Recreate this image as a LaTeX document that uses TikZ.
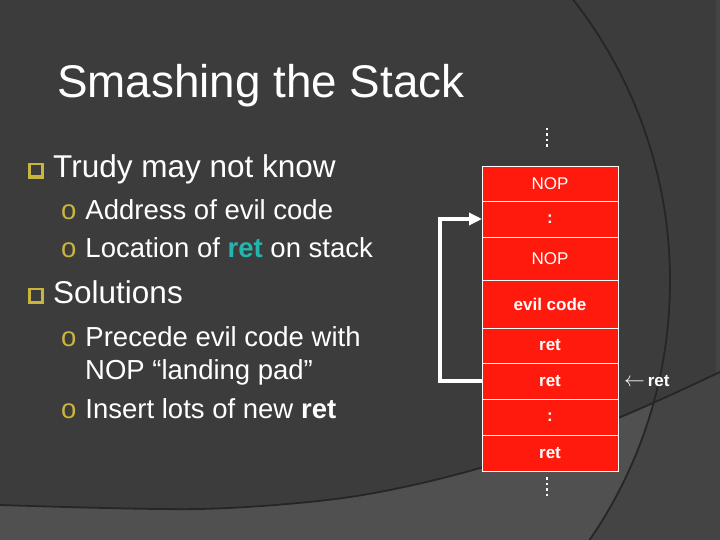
\documentclass[tikz,border=0pt]{standalone}
\usepackage{fontspec}
\setmainfont{Liberation Sans}
\usepackage{xcolor}
\usepackage{tikz}
\usetikzlibrary{arrows.meta, calc, positioning}
\definecolor{slate}{HTML}{3C3C3C}
\definecolor{slatelow}{HTML}{505050}
\definecolor{slateside}{HTML}{444444}
\definecolor{groove}{HTML}{262626}
\definecolor{stackred}{HTML}{FF1A0D}
\definecolor{gold}{HTML}{C9B43E}
\definecolor{tealret}{HTML}{22B7AE}
\newcommand\sz[1]{\fontsize{#1}{#1}\selectfont}

\begin{document}
\begin{tikzpicture}[x=1pt, y=-1pt,
  cell/.style={draw=white, line width=0.8pt, fill=stackred, text=white,
    minimum width=136, inner sep=0, outer sep=0, font=\sz{17}},
  retcell/.style={cell, font=\sz{17}\bfseries},
  lvlone/.style={anchor=base west, text=white, inner sep=0, font=\sz{31.5}},
  lvltwo/.style={anchor=base west, text=white, inner sep=0, font=\sz{27.5}},
  vdots/.style={white, line width=2.5pt, dash pattern=on 2.5pt off 3pt},
  jump/.style={white, line width=3.5pt, -{Triangle[length=13pt, width=12pt]}}]
  \useasboundingbox (0,0) rectangle (720,540);
  \fill[slate] (0,0) rectangle (720,540);
  % background swoosh: lower band and big arc on the right
  \begin{scope}
    \clip (0,0) rectangle (720,540);
    \fill[slateside] plot[smooth] coordinates {(0,505) (200,509) (350,497) (480,468) (618,418) (720,372)}
      -- (720,540) -- (0,540) -- cycle;
    \begin{scope}
      \clip (213,281) circle[radius=457pt];
      \fill[slatelow] plot[smooth] coordinates {(0,505) (200,509) (350,497) (480,468) (618,418) (720,372)}
        -- (720,540) -- (0,540) -- cycle;
    \end{scope}
    \fill[slateside] (716,0) rectangle (720,540);
    \draw[groove, line width=1.8pt] plot[smooth] coordinates {(0,505) (200,509) (350,497) (480,468) (618,418) (720,372)};
    \draw[groove, line width=1.8pt] (213,281) circle[radius=457pt];
  \end{scope}

  \node[anchor=base west, text=white, inner sep=0, font=\sz{45.8}] (title) at (57,98) {Smashing the Stack};

  % square bullets
  \foreach \by in {163, 288}{
    \fill[gold] (28,\by) rectangle (44,\by+16);
    \fill[slate] (30.5,\by+2) rectangle (40.5,\by+12.5);
  }
  \node[lvlone] (know) at (53,178) {Trudy may not know};
  \node[lvltwo] (addr) at (61,219) {\textcolor{gold}{o}\hspace{9pt}Address of evil code};
  \node[lvltwo] (loc) at (61,258) {\textcolor{gold}{o}\hspace{9pt}Location of \textcolor{tealret}{\bfseries ret} on stack};
  \node[lvlone] (sol) at (53,303) {Solutions};
  \node[lvltwo] (prec) at (61,346) {\textcolor{gold}{o}\hspace{9pt}Precede evil code with};
  \node[lvltwo] (pad) at (85,379) {NOP “landing pad”};
  \node[lvltwo] (ins) at (61,418) {\textcolor{gold}{o}\hspace{9pt}Insert lots of new \textbf{ret}};

  % the stack
  \node[cell, minimum height=35] (r1) at (550,183.5) {NOP};
  \node[retcell, minimum height=36, below=0pt of r1] (r2) {:};
  \node[cell, minimum height=43, below=0pt of r2] (r3) {NOP};
  \node[retcell, minimum height=48, below=0pt of r3] (r4) {evil code};
  \node[retcell, minimum height=35, below=0pt of r4] (r5) {ret};
  \node[retcell, minimum height=36, below=0pt of r5] (r6) {ret};
  \node[retcell, minimum height=36, below=0pt of r6] (r7) {:};
  \node[retcell, minimum height=36, below=0pt of r7] (r8) {ret};
  \draw[vdots] (547,128) -- (547,149);
  \draw[vdots] (547,477) -- (547,498);

  \draw[jump] (r6.west) -- ++(-42,0) |- (r2.west);
  \node[anchor=west, text=white, inner sep=0, font=\sz{17}, right=6pt of r6] (retlbl) {{\sz{21}$\leftarrow$}\,\textbf{ret}};
\end{tikzpicture}
\end{document}
